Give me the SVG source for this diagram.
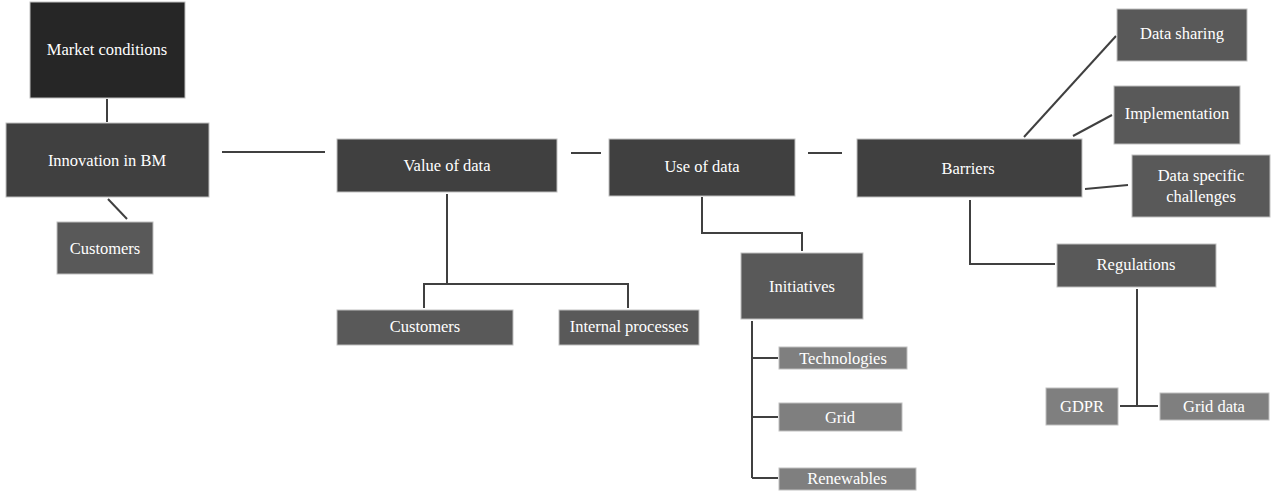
<svg xmlns="http://www.w3.org/2000/svg" width="1271" height="491" viewBox="0 0 1271 491">
<style>
.n rect{stroke:#bfbfbf;stroke-width:1}
.c0{fill:#262626}.c1{fill:#404040}.c2{fill:#595959}.c3{fill:#7f7f7f}
text{font-family:"Liberation Serif","Times New Roman",serif;font-size:16.5px;fill:#ffffff;text-anchor:middle;dominant-baseline:central}
#connectors{fill:none;stroke:#404040;stroke-width:2}
</style>
<rect width="1271" height="491" fill="#ffffff"/>
<g id="connectors">
<line x1="107" y1="99" x2="107" y2="122"/>
<line x1="108" y1="199" x2="127" y2="219"/>
<line x1="222" y1="152" x2="325" y2="152"/>
<line x1="571" y1="153" x2="601" y2="153"/>
<line x1="808" y1="153" x2="842" y2="153"/>
<polyline points="447,194 447,284 424,284 424,308"/>
<polyline points="447,284 628,284 628,308"/>
<polyline points="702,197 702,233 802,233 802,251"/>
<line x1="752" y1="321" x2="752" y2="478"/>
<line x1="752" y1="358" x2="778" y2="358"/>
<line x1="752" y1="417" x2="778" y2="417"/>
<line x1="752" y1="478" x2="778" y2="478"/>
<line x1="1024" y1="137" x2="1116" y2="36"/>
<line x1="1073" y1="136" x2="1112" y2="115"/>
<line x1="1085" y1="189" x2="1128" y2="185"/>
<polyline points="970,200 970,264 1055,264"/>
<line x1="1137" y1="289" x2="1137" y2="406"/>
<line x1="1120" y1="406" x2="1158" y2="406"/>
</g>
<g id="market" class="n"><rect class="c0" x="30" y="2" width="155" height="96"/><text x="107" y="49">Market conditions</text></g>
<g id="innovation" class="n"><rect class="c1" x="6" y="123" width="203" height="74"/><text x="107" y="160">Innovation in BM</text></g>
<g id="customers1" class="n"><rect class="c2" x="57" y="222" width="96" height="52"/><text x="105" y="248">Customers</text></g>
<g id="value" class="n"><rect class="c1" x="337" y="139" width="220" height="53"/><text x="447" y="165">Value of data</text></g>
<g id="customers2" class="n"><rect class="c2" x="337" y="310" width="176" height="35"/><text x="425" y="326">Customers</text></g>
<g id="internal" class="n"><rect class="c2" x="559" y="310" width="140" height="35"/><text x="629" y="326">Internal processes</text></g>
<g id="use" class="n"><rect class="c1" x="609" y="139" width="186" height="57"/><text x="702" y="166">Use of data</text></g>
<g id="initiatives" class="n"><rect class="c2" x="741" y="253" width="122" height="66"/><text x="802" y="286">Initiatives</text></g>
<g id="technologies" class="n"><rect class="c3" x="779" y="347" width="128" height="22"/><text x="843" y="358">Technologies</text></g>
<g id="grid" class="n"><rect class="c3" x="779" y="403" width="123" height="28"/><text x="840" y="417">Grid</text></g>
<g id="renewables" class="n"><rect class="c3" x="779" y="468" width="137" height="22"/><text x="847" y="478">Renewables</text></g>
<g id="barriers" class="n"><rect class="c1" x="857" y="139" width="225" height="58"/><text x="968" y="168">Barriers</text></g>
<g id="datasharing" class="n"><rect class="c2" x="1117" y="9" width="130" height="52"/><text x="1182" y="33">Data sharing</text></g>
<g id="implementation" class="n"><rect class="c2" x="1114" y="86" width="126" height="58"/><text x="1177" y="113">Implementation</text></g>
<g id="dataspecific" class="n"><rect class="c2" x="1132" y="155" width="138" height="62"/><text x="1201" y="175">Data specific</text><text x="1201" y="196">challenges</text></g>
<g id="regulations" class="n"><rect class="c2" x="1057" y="244" width="159" height="43"/><text x="1136" y="264">Regulations</text></g>
<g id="gdpr" class="n"><rect class="c3" x="1046" y="388" width="72" height="37"/><text x="1082" y="406">GDPR</text></g>
<g id="griddata" class="n"><rect class="c3" x="1160" y="393" width="109" height="27"/><text x="1214" y="406">Grid data</text></g>
</svg>
